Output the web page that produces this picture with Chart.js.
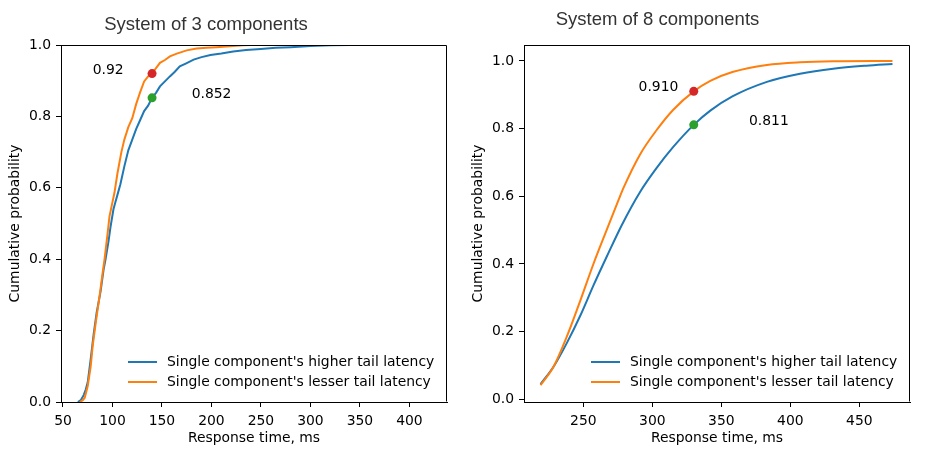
<!DOCTYPE html>
<html>
<head>
<meta charset="utf-8">
<script src="https://cdn.jsdelivr.net/npm/chart.js@4/dist/chart.umd.min.js"></script>
<style>
  body { margin: 0; background: #fff; }
  .panel { position: absolute; top: 0; width: 463px; height: 453px; }
</style>
</head>
<body>
<div class="panel" style="left:0"><canvas id="c3" width="463" height="453"></canvas></div>
<div class="panel" style="left:463px"><canvas id="c8" width="463" height="453"></canvas></div>
<script>
// Datos: CDF del tiempo de respuesta.
const legendLabels = ["Single component's higher tail latency", "Single component's lesser tail latency"];
const xTitle = "Response time, ms";
const yTitle = "Cumulative probability";

// Sistema de 3 componentes (CDF empírica)
const title3 = "System of 3 components";
const higher3X = [65, 68, 71, 73, 75, 78, 81, 84, 88, 91, 93, 96, 98, 101, 103, 106, 108, 112, 116, 120, 124, 128, 132, 136, 140, 144, 148, 153, 158, 163, 168, 174, 182, 190, 199, 210, 222, 235, 250, 265, 280, 300, 320, 340, 355];
const higher3Y = [0, 0.005, 0.02, 0.035, 0.055, 0.12, 0.19, 0.25, 0.31, 0.37, 0.40, 0.45, 0.49, 0.54, 0.56, 0.59, 0.61, 0.66, 0.705, 0.735, 0.765, 0.79, 0.815, 0.83, 0.852, 0.866, 0.884, 0.898, 0.912, 0.925, 0.94, 0.948, 0.959, 0.966, 0.972, 0.976, 0.982, 0.986, 0.989, 0.992, 0.994, 0.997, 0.999, 1.0, 1.0];
const lesser3X = [67, 70, 72, 75, 78, 80, 83, 87, 90, 92, 95, 97, 100, 102, 105, 109, 112, 116, 120, 124, 128, 132, 136, 140, 144, 148, 153, 158, 165, 175, 185, 195, 205, 215, 225, 232, 240, 255];
const lesser3Y = [0, 0.005, 0.012, 0.045, 0.1, 0.157, 0.22, 0.297, 0.36, 0.40, 0.47, 0.52, 0.56, 0.586, 0.64, 0.70, 0.735, 0.77, 0.795, 0.835, 0.868, 0.898, 0.912, 0.92, 0.935, 0.95, 0.958, 0.968, 0.976, 0.985, 0.99, 0.992, 0.994, 0.996, 0.998, 0.999, 1.0, 1.0];
const marks3X = [140, 140];
const marks3Y = [0.92, 0.852];
const notes3 = [{ x: 80, y: 0.92, text: "0.92" }, { x: 180, y: 0.852, text: "0.852" }];
const ticks3X = [50, 100, 150, 200, 250, 300, 350, 400];

// Sistema de 8 componentes
const title8 = "System of 8 components";
const higher8X = [219, 228.5, 238, 248, 257.5, 267, 278, 291, 303, 315, 330, 342, 358, 383, 407, 431, 455, 474];
const higher8Y = [0.045, 0.097, 0.166, 0.249, 0.338, 0.422, 0.516, 0.612, 0.683, 0.745, 0.811, 0.853, 0.895, 0.938, 0.962, 0.977, 0.986, 0.991];
const lesser8X = [219, 228.5, 238, 248, 257.5, 266, 275.6, 279, 291, 303, 315, 330, 342, 358, 383, 407, 431, 474];
const lesser8Y = [0.042, 0.097, 0.185, 0.294, 0.402, 0.491, 0.59, 0.624, 0.723, 0.795, 0.855, 0.910, 0.941, 0.967, 0.988, 0.996, 0.999, 1.0];
const marks8X = [330, 330];
const marks8Y = [0.910, 0.811];
const notes8 = [{ x: 290, y: 0.910, text: "0.910" }, { x: 370, y: 0.811, text: "0.811" }];
const ticks8X = [250, 300, 350, 400, 450];

const ticksY = [0, 0.2, 0.4, 0.6, 0.8, 1.0];

const BLUE = "#1f77b4", ORANGE = "#ff7f0e", RED = "#d62728", GREEN = "#2ca02c";
const FONT = "'DejaVu Sans', sans-serif";
const FS = 13.9;

function puntos(xs, ys) {
  return xs.map((x, i) => ({ x, y: ys[i] }));
}

// Caja, leyenda, anotaciones y título dibujados a mano
const extras = {
  id: "extras",
  afterDraw(chart, args, opts) {
    const { ctx, chartArea: a, scales } = chart;
    ctx.save();
    ctx.globalAlpha = 1;
    ctx.setLineDash([]);
    ctx.strokeStyle = "#000000";
    ctx.lineWidth = 1;
    const l = Math.round(a.left) + 0.5, r = Math.round(a.right) - 0.5;
    const t = Math.round(a.top) + 0.5, b = Math.round(a.bottom) - 0.5;
    ctx.beginPath();
    ctx.moveTo(l, b);
    ctx.lineTo(l, t);
    ctx.lineTo(r, t);
    ctx.lineTo(r, b);
    ctx.stroke();

    ctx.font = FS + "px " + FONT;
    ctx.fillStyle = "#000";
    ctx.textAlign = "left";
    ctx.textBaseline = "alphabetic";
    for (const n of opts.notes) {
      ctx.fillText(n.text, scales.x.getPixelForValue(n.x), scales.y.getPixelForValue(n.y));
    }

    const colors = [BLUE, ORANGE];
    ctx.textBaseline = "middle";
    legendLabels.forEach((lab, i) => {
      const y = 362 + i * 20;
      ctx.strokeStyle = colors[i];
      ctx.lineWidth = 2;
      ctx.beginPath();
      ctx.moveTo(128, y);
      ctx.lineTo(157, y);
      ctx.stroke();
      ctx.fillText(lab, 167, y);
    });

    ctx.font = "18.5px 'Liberation Sans', Arial, sans-serif";
    ctx.fillStyle = "#333";
    ctx.textAlign = "center";
    ctx.fillText(opts.title, opts.titleX, opts.titleY);
    ctx.restore();
  },
};

function crearGrafico(canvas, cfg) {
  return new Chart(canvas.getContext("2d"), {
    type: "line",
    data: {
      datasets: [
        { data: puntos(cfg.marksX, cfg.marksY), showLine: false, pointRadius: 4.5, pointHoverRadius: 4.5,
          pointBackgroundColor: [RED, GREEN], pointBorderWidth: 0, order: 0 },
        { data: puntos(cfg.lesserX, cfg.lesserY), borderColor: ORANGE, borderWidth: 2, pointRadius: 0,
          cubicInterpolationMode: cfg.smooth ? "monotone" : "default", tension: 0, order: 1 },
        { data: puntos(cfg.higherX, cfg.higherY), borderColor: BLUE, borderWidth: 2, pointRadius: 0,
          cubicInterpolationMode: cfg.smooth ? "monotone" : "default", tension: 0, order: 2 },
      ],
    },
    options: {
      responsive: false,
      animation: false,
      layout: { padding: { top: 45, right: 16, left: 0, bottom: 0 } },
      plugins: {
        legend: { display: false },
        tooltip: { enabled: false },
        extras: { notes: cfg.notes, title: cfg.title, titleX: cfg.titleX, titleY: cfg.titleY },
      },
      scales: {
        x: {
          type: "linear",
          min: cfg.xMin, max: cfg.xMax,
          afterBuildTicks: (s) => { s.ticks = cfg.ticksX.map((v) => ({ value: v })); },
          afterFit: (s) => { s.height = 51; },
          grid: { drawOnChartArea: false, drawTicks: true, tickLength: 5, color: "#000" },
          border: { display: true, color: "#000" },
          ticks: { color: "#000", padding: 6, maxRotation: 0, font: { family: FONT, size: FS } },
          title: { display: true, text: xTitle, color: "#000", padding: { top: 2, bottom: 6 }, font: { family: FONT, size: FS } },
        },
        y: {
          type: "linear",
          min: cfg.yMin, max: cfg.yMax,
          afterBuildTicks: (s) => { s.ticks = ticksY.map((v) => ({ value: v })); },
          afterFit: (s) => { s.width = 61; },
          grid: { drawOnChartArea: false, drawTicks: true, tickLength: 5, color: "#000" },
          border: { display: true, color: "#000" },
          ticks: { color: "#000", padding: 5, font: { family: FONT, size: FS }, callback: (v) => v.toFixed(1) },
          title: { display: true, text: yTitle, color: "#000", padding: { top: 7, bottom: 2 }, font: { family: FONT, size: FS } },
        },
      },
    },
    plugins: [extras],
  });
}

crearGrafico(document.getElementById("c3"), {
  higherX: higher3X, higherY: higher3Y, lesserX: lesser3X, lesserY: lesser3Y,
  marksX: marks3X, marksY: marks3Y, notes: notes3, ticksX: ticks3X,
  xMin: 48, xMax: 438, yMin: 0, yMax: 1, smooth: false,
  title: title3, titleX: 206, titleY: 25,
});

crearGrafico(document.getElementById("c8"), {
  higherX: higher8X, higherY: higher8Y, lesserX: lesser8X, lesserY: lesser8Y,
  marksX: marks8X, marksY: marks8Y, notes: notes8, ticksX: ticks8X,
  xMin: 207, xMax: 486.7, yMin: -0.008, yMax: 1.047, smooth: true,
  title: title8, titleX: 194.5, titleY: 20,
});
</script>
</body>
</html>
